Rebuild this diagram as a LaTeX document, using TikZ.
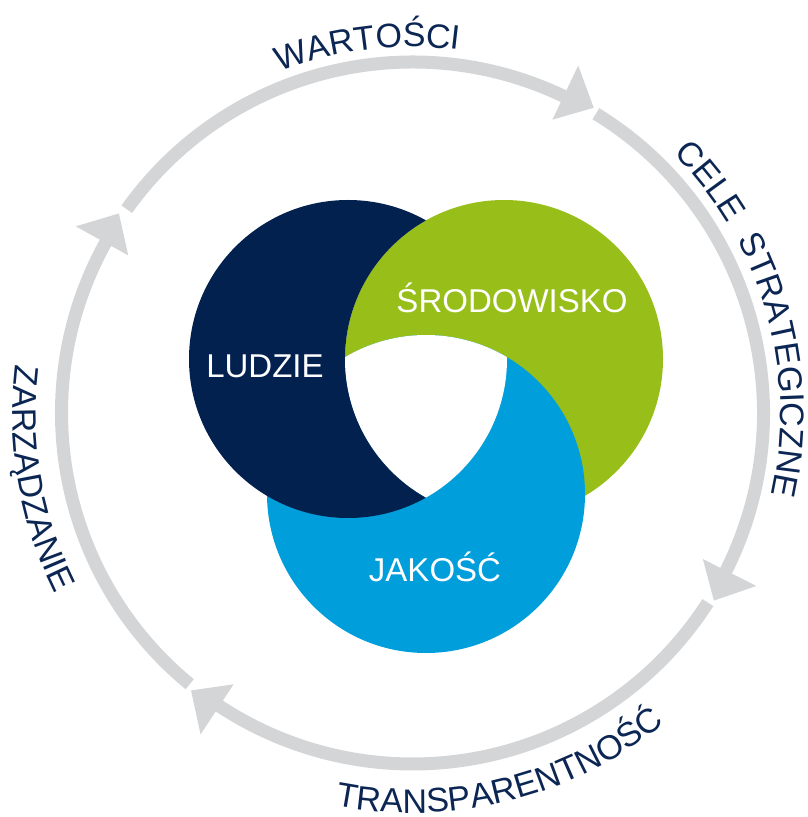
\documentclass[tikz,border=0pt]{standalone}
\usepackage{fontspec}
\setmainfont{Liberation Sans}
\newfontfamily\celefont[LetterSpace=28]{Liberation Sans}
\usetikzlibrary{decorations.text}
\definecolor{navyc}{RGB}{3,33,78}
\definecolor{greenc}{RGB}{151,190,25}
\definecolor{bluec}{RGB}{0,158,219}
\definecolor{ringc}{RGB}{212,213,215}
\definecolor{labc}{RGB}{12,38,84}
\newcommand{\outerfont}{\fontsize{34}{40}\selectfont}
\newcommand{\celesize}{\celefont\fontsize{34}{40}\selectfont}
\begin{document}
\begin{tikzpicture}[x=1pt,y=1pt,
  inlabel/.style={text=white,font=\fontsize{33}{38}\selectfont,anchor=base,inner sep=0pt},
  ringseg/.style={draw=ringc,line width=13pt},
  arrowtip/.style={fill=ringc},
  ringtext/.style={decorate,decoration={text along path,text align=center,text color=labc,text={|\outerfont|#1}}},
  celetext/.style={decorate,decoration={text along path,text align=center,text color=labc,text={|\celesize|#1}}},
]
\useasboundingbox (0,0) rectangle (807,817);
\coordinate (C) at (412.5,404);
\coordinate (N) at (348,458);
\coordinate (G) at (504,458);
\coordinate (B) at (426,323);
\def\R{159}
% circles
\fill[greenc] (G) circle[radius=\R];
\fill[bluec] (B) circle[radius=\R];
\begin{scope}
  \clip (-100,-100) -- (-100,1000) -- (1000,1000) -- (1000,-100) -- cycle
        (G) ++(0:\R) arc[start angle=0,end angle=360,radius=\R] -- cycle;
  \fill[navyc] (N) circle[radius=\R];
\end{scope}
\begin{scope}
  \clip (N) circle[radius=\R];
  \clip (G) circle[radius=\R];
  \clip (B) circle[radius=\R];
  \fill[white] (N) circle[radius=\R+2];
\end{scope}
% labels
\node[inlabel] (ludzie) at (265,439) {LUDZIE};
\node[inlabel] (srod) at (512,504) {ŚRODOWISKO};
\node[inlabel] (jakosc) at (435,235) {JAKOŚĆ};
% ring with arrows
\begin{scope}[shift={(C)}]
  \foreach \s/\e in {144.5/64.5, 58.5/-26.7, -32.7/-123.4, -129.4/-209}{
    \draw[ringseg] (\s:351) arc[start angle=\s,end angle=\e-1,radius=351];
    \fill[arrowtip] (\e:325) -- (\e:385) -- ({\e-5.2}:355) -- cycle;
  }
  \path[ringtext={WARTOŚCI}] (137:366) arc[start angle=137,end angle=57,radius=366];
  \path[celetext={CELE STRATEGICZNE}] (86:368) arc[start angle=86,end angle=-54,radius=368];
  \path[ringtext={TRANSPARENTNOŚĆ}] (-126:400) arc[start angle=-126,end angle=-26,radius=400];
  \path[ringtext={ZARZĄDZANIE}] (145:400) arc[start angle=145,end angle=235,radius=400];
\end{scope}
\end{tikzpicture}
\end{document}
